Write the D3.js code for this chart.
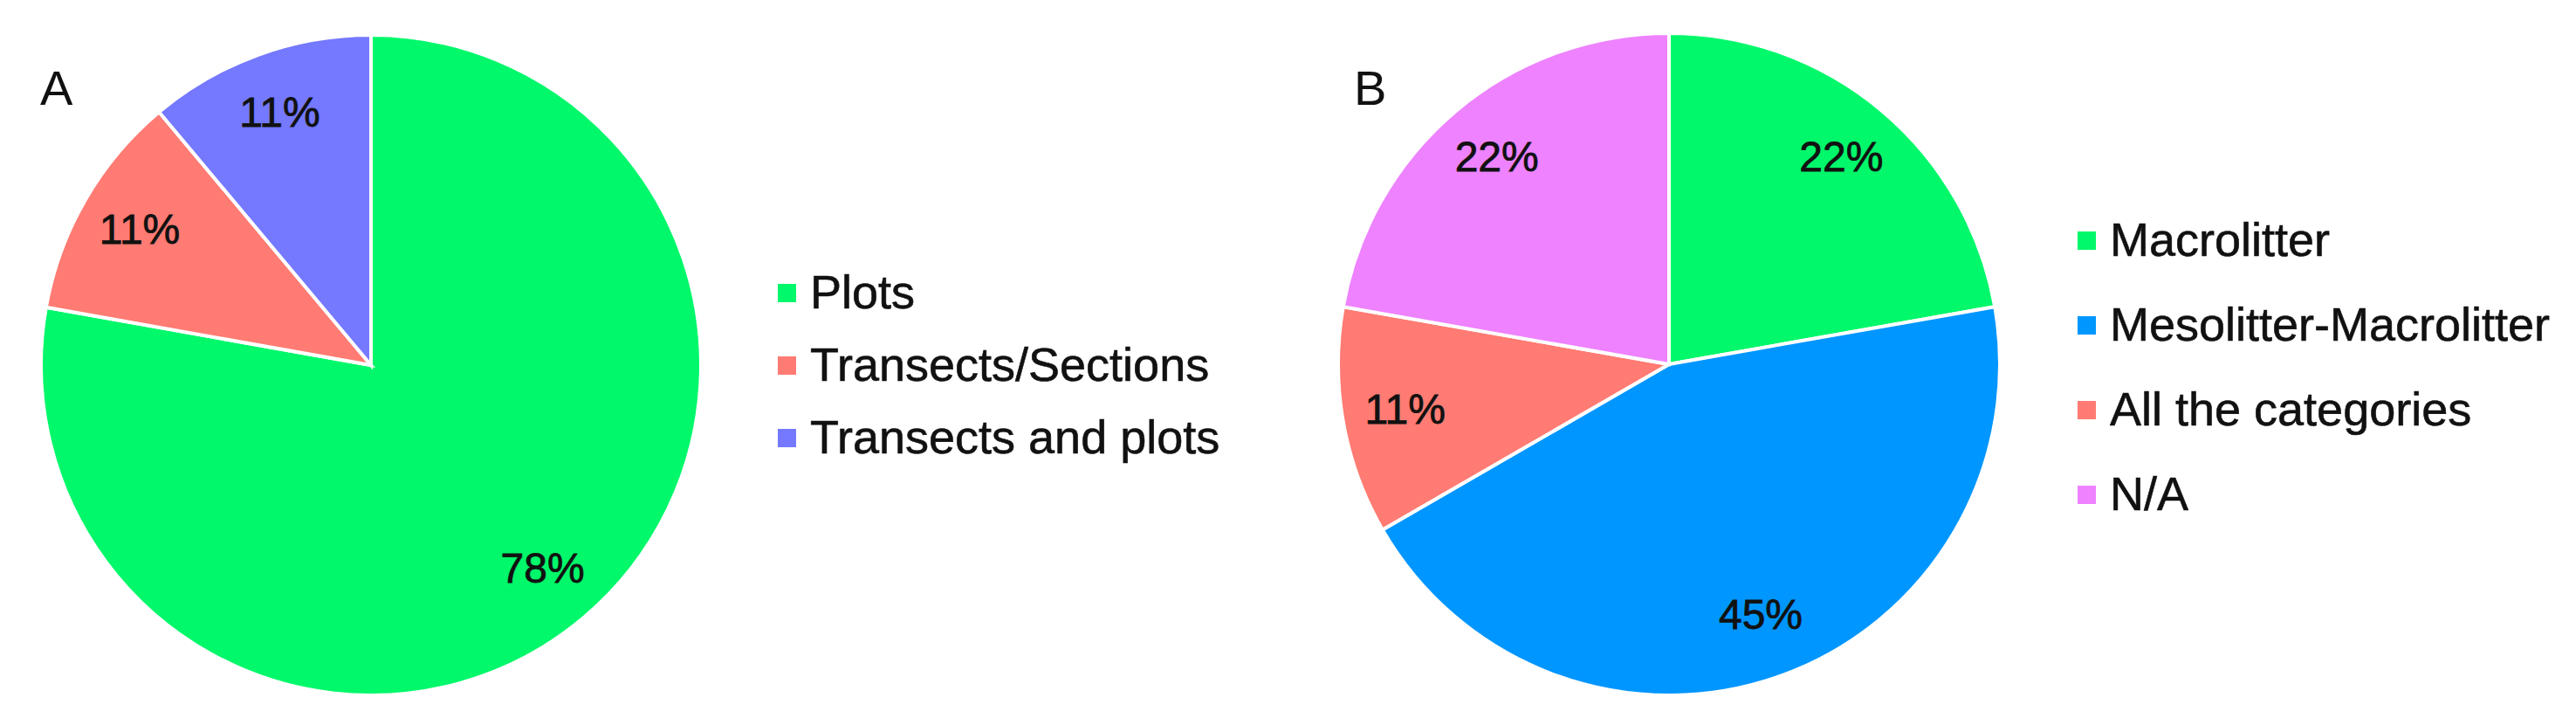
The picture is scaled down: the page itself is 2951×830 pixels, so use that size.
<!DOCTYPE html>
<html>
<head>
<meta charset="utf-8">
<script src="https://cdn.jsdelivr.net/npm/d3@7"></script>
<style>
  body { margin: 0; background: #fff; }
  text { font-family: "Liberation Sans", Arial, sans-serif; }
</style>
</head>
<body>
<div id="chart"></div>
<script>
// Panel A data
const catsA = ["Plots", "Transects/Sections", "Transects and plots"];
const valsA = [77.8, 11.1, 11.1];
const labelsA = ["78%", "11%", "11%"];
const colorsA = ["#00f86a", "#ff7b73", "#7479ff"];

// Panel B data
const catsB = ["Macrolitter", "Mesolitter-Macrolitter", "All the categories", "N/A"];
const valsB = [22.2, 44.4, 11.1, 22.2];
const labelsB = ["22%", "45%", "11%", "22%"];
const colorsB = ["#00f86a", "#0096ff", "#ff7b73", "#ee82ff"];

const svgWidth = 2951;
const svgHeight = 830;

const svg = d3.select("#chart")
  .append("svg")
  .attr("width", svgWidth)
  .attr("height", svgHeight);

function drawPie(opt) {
  const g = svg.append("g")
    .attr("transform", `translate(${opt.cx}, ${opt.cy})`);

  const pie = d3.pie().sort(null).value(d => d)(opt.values);
  const arc = d3.arc().innerRadius(0).outerRadius(opt.r);
  const labelArc = d3.arc().innerRadius(opt.r * 0.81).outerRadius(opt.r * 0.81);

  g.selectAll("path")
    .data(pie)
    .join("path")
    .attr("d", arc)
    .attr("fill", (d, i) => opt.colors[i])
    .attr("stroke", "#fff")
    .attr("stroke-width", 4);

  // percentage labels
  g.selectAll("text.pct")
    .data(pie)
    .join("text")
    .attr("class", "pct")
    .attr("transform", d => `translate(${labelArc.centroid(d)})`)
    .attr("text-anchor", "middle")
    .attr("dy", "0.3em")
    .attr("font-size", 48)
    .attr("fill", "#111")
    .attr("stroke", "#111")
    .attr("stroke-width", 0.8)
    .text((d, i) => opt.labels[i]);

  // panel letter
  svg.append("text")
    .attr("x", opt.letterX)
    .attr("y", 120)
    .attr("font-size", 56)
    .attr("fill", "#111")
    .text(opt.letter);

  // legend
  const leg = svg.append("g")
    .attr("transform", `translate(${opt.legX}, ${opt.legY})`);
  const row = leg.selectAll("g")
    .data(opt.cats)
    .join("g")
    .attr("transform", (d, i) => `translate(0, ${i * opt.legStep})`);
  row.append("rect")
    .attr("x", 0)
    .attr("y", -10)
    .attr("width", 21)
    .attr("height", 21)
    .attr("fill", (d, i) => opt.colors[i]);
  row.append("text")
    .attr("x", 37)
    .attr("y", 18)
    .attr("font-size", 54)
    .attr("fill", "#111")
    .attr("stroke", "#111")
    .attr("stroke-width", 0.6)
    .text(d => d);
}

drawPie({
  cx: 425, cy: 418, r: 378,
  values: valsA, labels: labelsA, colors: colorsA, cats: catsA,
  letter: "A", letterX: 46,
  legX: 891, legY: 335, legStep: 83
});

drawPie({
  cx: 1912, cy: 417, r: 379,
  values: valsB, labels: labelsB, colors: colorsB, cats: catsB,
  letter: "B", letterX: 1551,
  legX: 2380, legY: 275, legStep: 97
});
</script>
</body>
</html>
